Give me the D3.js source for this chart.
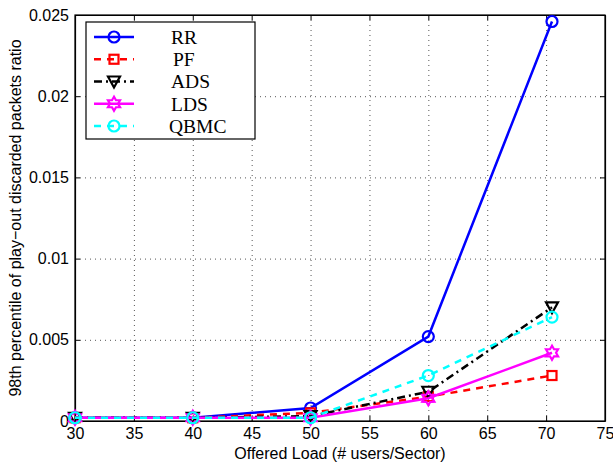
<!DOCTYPE html>
<html>
<head>
<meta charset="utf-8">
<script src="https://cdn.jsdelivr.net/npm/d3@7"></script>
<style>
  body { margin: 0; background: #fff; }
  .tick text { font-family: "Liberation Sans", Arial, sans-serif; font-size: 16px; fill: #000; }
  .legend text { font-family: "Liberation Serif", "Times New Roman", serif; font-size: 19.5px; }
</style>
</head>
<body>
<svg id="chart" width="613" height="464"></svg>
<script>
// ----- Data -----------------------------------------------------------------
var LOADS = [30, 40, 50, 60, 70.5];
var SERIES_NAMES = ['RR', 'PF', 'ADS', 'LDS', 'QBMC'];
var RR = [0.0002, 0.0002, 0.0008, 0.0052, 0.0246];
var PF = [0.0002, 0.0002, 0.0005, 0.0015, 0.0028];
var ADS = [0.0002, 0.0002, 0.0003, 0.0018, 0.0070];
var LDS = [0.0002, 0.0002, 0.0002, 0.0014, 0.0042];
var QBMC = [0.0002, 0.0002, 0.0002, 0.0028, 0.0064];
var X_TICKS = [30, 35, 40, 45, 50, 55, 60, 65, 70, 75];
var Y_TICKS = [0, 0.005, 0.01, 0.015, 0.02, 0.025];
var Y_TICK_LABELS = ['0', '0.005', '0.01', '0.015', '0.02', '0.025'];

var STYLES = {
  RR:   { color: '#0000ff', dash: null,          marker: 'circle' },
  PF:   { color: '#ff0000', dash: '7,6',         marker: 'square' },
  ADS:  { color: '#000000', dash: '8,4,2,4',     marker: 'triangle' },
  LDS:  { color: '#ff00ff', dash: null,          marker: 'hexagram' },
  QBMC: { color: '#00ffff', dash: '7,6',         marker: 'circle' }
};

var series = [RR, PF, ADS, LDS, QBMC].map(function(vals, i) {
  return { name: SERIES_NAMES[i], values: vals.map(function(v, j) { return [LOADS[j], v]; }) };
});

// ----- SVG setup --------------------------------------------------------------
var svg = d3.select('#chart');
var margin = { top: 15, right: 8, bottom: 43, left: 75 };
var width = 613 - margin.left - margin.right;
var height = 464 - margin.top - margin.bottom;

var x = d3.scaleLinear().domain([30, 75]).range([0, width]);
var y = d3.scaleLinear().domain([0, 0.025]).range([height, 0]);

var g = svg.append('g')
    .attr('transform', 'translate(' + margin.left + ',' + margin.top + ')');

// grid
g.append('g')
    .attr('transform', 'translate(0,' + height + ')')
    .call(d3.axisBottom(x).tickValues(X_TICKS).tickSize(-height).tickFormat(''))
  .call(function(s) {
    s.select('.domain').remove();
    s.selectAll('line').attr('stroke', '#555').attr('stroke-dasharray', '1,4');
  });
g.append('g')
    .call(d3.axisLeft(y).tickValues(Y_TICKS).tickSize(-width).tickFormat(''))
  .call(function(s) {
    s.select('.domain').remove();
    s.selectAll('line').attr('stroke', '#555').attr('stroke-dasharray', '1,4');
  });

// axes with inward ticks
g.append('g')
    .attr('transform', 'translate(0,' + height + ')')
    .call(d3.axisBottom(x).tickValues(X_TICKS).tickSizeInner(-5).tickSizeOuter(0).tickPadding(7));
g.append('g')
    .call(d3.axisTop(x).tickValues(X_TICKS).tickSizeInner(-5).tickSizeOuter(0).tickFormat(''));
g.append('g')
    .call(d3.axisLeft(y).tickValues(Y_TICKS).tickSizeInner(-5).tickSizeOuter(0).tickPadding(6)
      .tickFormat(function(d, i) { return Y_TICK_LABELS[i]; }));
g.append('g')
    .attr('transform', 'translate(' + width + ',0)')
    .call(d3.axisRight(y).tickValues(Y_TICKS).tickSizeInner(-5).tickSizeOuter(0).tickFormat(''));
g.selectAll('.domain').attr('stroke', '#000').attr('stroke-width', 1.2);

g.append('rect')
    .attr('width', width).attr('height', height)
    .attr('fill', 'none').attr('stroke', '#000').attr('stroke-width', 1.2);

// axis titles
svg.append('text')
    .attr('x', margin.left + width / 2)
    .attr('y', 459)
    .attr('text-anchor', 'middle')
    .style('font-family', '"Liberation Sans", Arial, sans-serif')
    .style('font-size', '16px')
    .text('Offered Load (# users/Sector)');
svg.append('text')
    .attr('transform', 'translate(15,' + (margin.top + height / 2) + ') rotate(-90)')
    .attr('text-anchor', 'middle')
    .attr('dy', '0.35em')
    .style('font-family', '"Liberation Sans", Arial, sans-serif')
    .style('font-size', '16px')
    .text('98th percentile of play\u2212out discarded packets ratio');

// ----- Markers ----------------------------------------------------------------
function hexagram(r) {
  var pts = [];
  for (var k = 0; k < 12; k++) {
    var a = Math.PI / 2 + k * Math.PI / 6;
    var rr = k % 2 === 0 ? r : r * 0.58;
    pts.push([rr * Math.cos(a), -rr * Math.sin(a)]);
  }
  return 'M' + pts.map(function(p) { return p.join(','); }).join('L') + 'Z';
}

function drawMarker(sel, kind, color) {
  if (kind === 'circle') {
    sel.append('circle').attr('r', 5.5);
  } else if (kind === 'square') {
    sel.append('rect').attr('x', -4.5).attr('y', -4.5).attr('width', 9).attr('height', 9);
  } else if (kind === 'triangle') {
    sel.append('path').attr('d', 'M-6,-5L6,-5L0,6Z');
  } else if (kind === 'hexagram') {
    sel.append('path').attr('d', hexagram(7));
  }
  sel.selectAll('*')
      .attr('fill', 'none')
      .attr('stroke', color)
      .attr('stroke-width', 2.2);
}

// ----- Lines ------------------------------------------------------------------
var line = d3.line()
    .x(function(d) { return x(d[0]); })
    .y(function(d) { return y(d[1]); });

series.forEach(function(s) {
  var st = STYLES[s.name];
  g.append('path')
      .datum(s.values)
      .attr('fill', 'none')
      .attr('stroke', st.color)
      .attr('stroke-width', 2.5)
      .attr('stroke-dasharray', st.dash)
      .attr('d', line);
  g.selectAll(null)
      .data(s.values)
    .enter().append('g')
      .attr('transform', function(d) { return 'translate(' + x(d[0]) + ',' + y(d[1]) + ')'; })
      .each(function() { drawMarker(d3.select(this), st.marker, st.color); });
});

// ----- Legend -----------------------------------------------------------------
var legend = svg.append('g').attr('class', 'legend');
legend.append('rect')
    .attr('x', 86).attr('y', 22).attr('width', 169).attr('height', 117)
    .attr('fill', '#fff').attr('stroke', '#000').attr('stroke-width', 1.2);

var rowY = d3.scalePoint().domain(SERIES_NAMES).range([37, 126]);
SERIES_NAMES.forEach(function(name) {
  var st = STYLES[name];
  var row = legend.append('g').attr('transform', 'translate(0,' + rowY(name) + ')');
  row.append('line')
      .attr('x1', 94).attr('x2', 134)
      .attr('stroke', st.color).attr('stroke-width', 2.5)
      .attr('stroke-dasharray', st.dash);
  drawMarker(row.append('g').attr('transform', 'translate(114,0)'), st.marker, st.color);
  row.append('text')
      .attr('x', name === 'PF' ? 173 : (name === 'QBMC' ? 169 : 171))
      .attr('dy', '0.35em')
      .text(name);
});
</script>
</body>
</html>
